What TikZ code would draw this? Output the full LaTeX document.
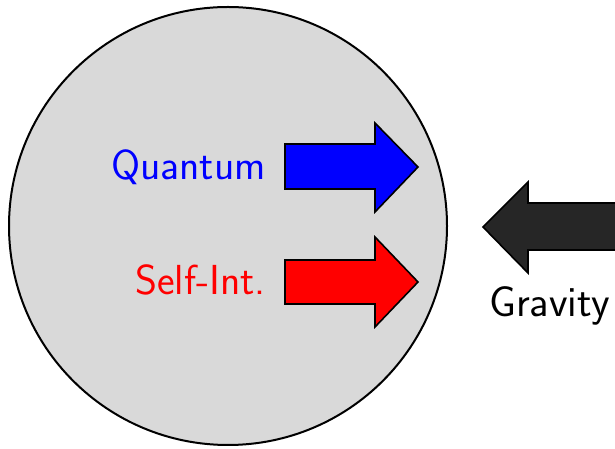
\documentclass[tikz,border=0pt]{standalone}
\definecolor{ballgray}{RGB}{217,217,217}
\definecolor{gravdark}{RGB}{38,38,38}
\begin{document}
\begin{tikzpicture}[x=1pt,y=1pt,
  arrowshape/.style={draw=black,line width=1.6pt,line join=miter},
  lbl/.style={inner sep=0pt,font=\sffamily\fontsize{42}{48}\selectfont},
  glbl/.style={inner sep=0pt,font=\sffamily\fontsize{43}{48}\selectfont}]
\useasboundingbox (0,0) rectangle (615,449);
% sphere
\node[circle,draw=black,line width=2pt,fill=ballgray,minimum size=438pt,inner sep=0pt] (ball) at (228,223) {};
% quantum arrow
\filldraw[fill=blue,arrowshape] (285,305) -- (375,305) -- (375,326) -- (418,282) -- (375,237) -- (375,260) -- (285,260) -- cycle;
% self-int arrow
\filldraw[fill=red,arrowshape] (285,189) -- (375,189) -- (375,212) -- (418,167) -- (375,122) -- (375,145) -- (285,145) -- cycle;
% gravity arrow
\filldraw[fill=gravdark,arrowshape] (616,246) -- (528,246) -- (528,267) -- (483,222) -- (528,176) -- (528,199) -- (616,199) -- cycle;
% labels
\node[lbl,text=blue,anchor=base east] (q) at (266,269) {Quantum};
\node[lbl,text=red,anchor=base east] (s) at (266,154) {Self-Int.};
\node[glbl,text=black,anchor=base west] (g) at (489,132) {Gravity};
\end{tikzpicture}
\end{document}
